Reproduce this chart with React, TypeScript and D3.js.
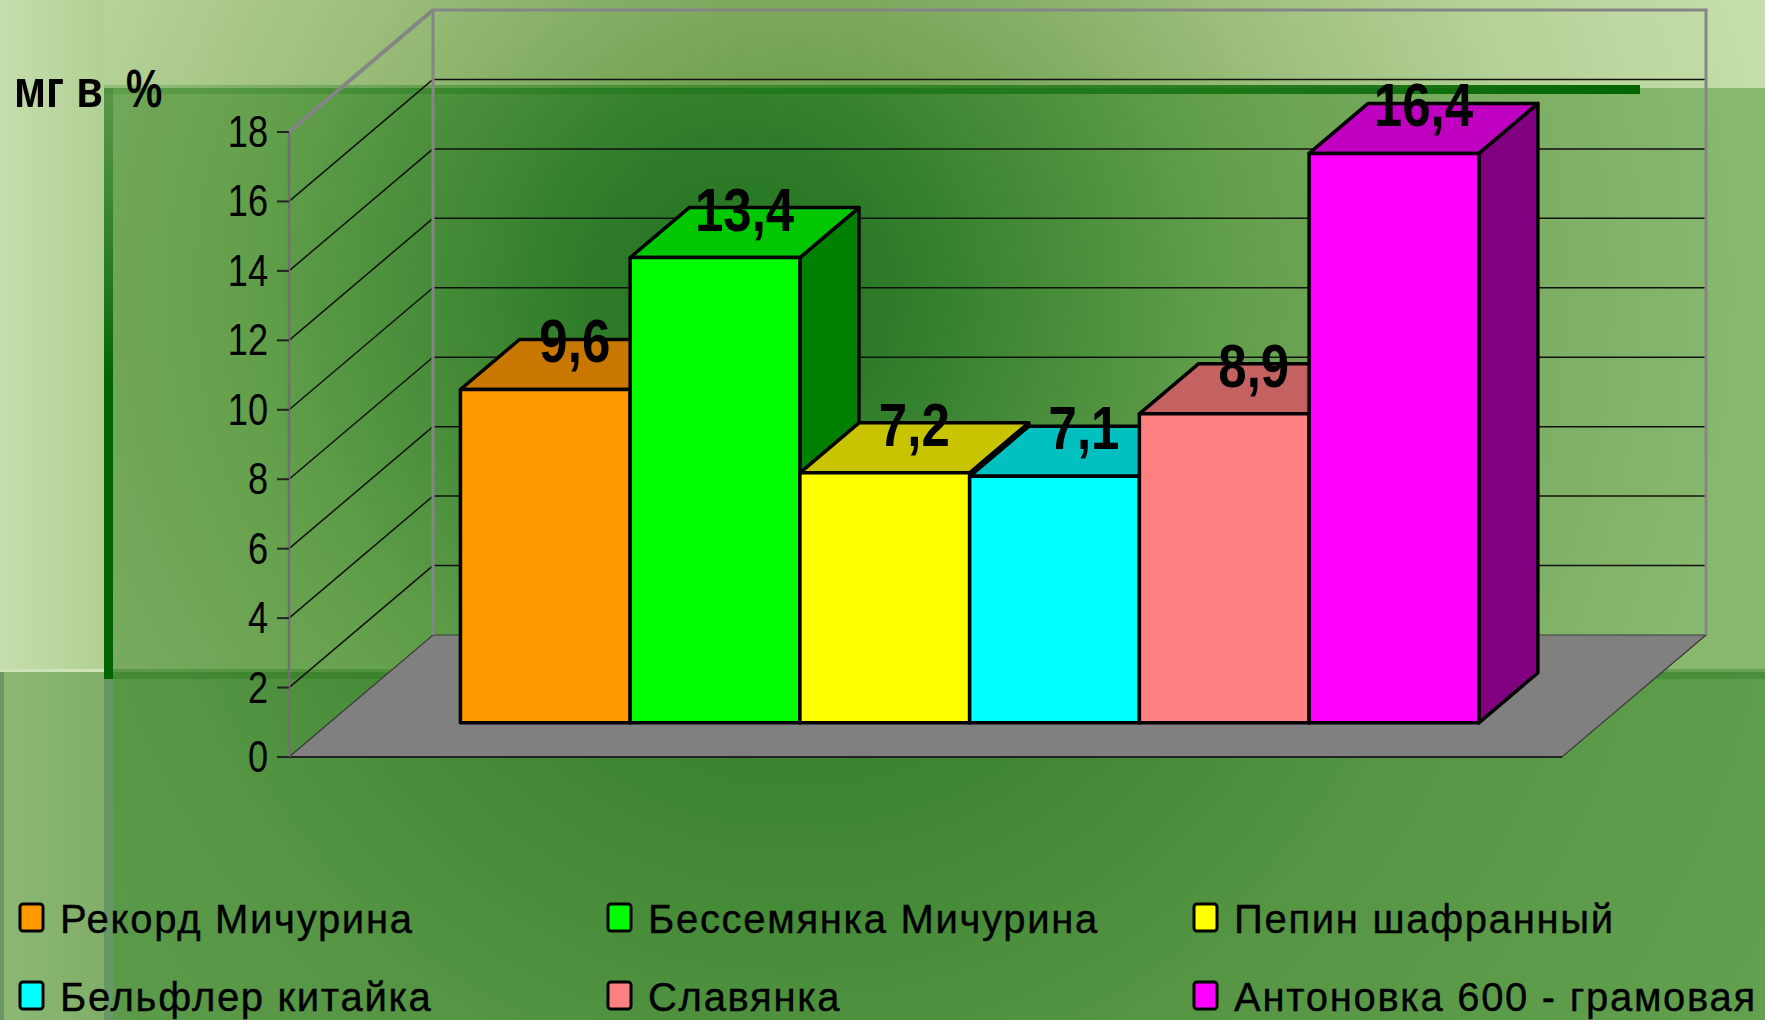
import * as d3 from "d3";

// ---- data ----
const names = [
  "Рекорд Мичурина",
  "Бессемянка Мичурина",
  "Пепин шафранный",
  "Бельфлер китайка",
  "Славянка",
  "Антоновка 600 - грамовая",
];
const values = [9.6, 13.4, 7.2, 7.1, 8.9, 16.4];
const frontColors = ["#ff9900", "#00ff00", "#ffff00", "#00ffff", "#ff8080", "#ff00ff"];
const topColors = ["#c87800", "#00c800", "#c8c400", "#00c0c0", "#c46262", "#c000c0"];
const sideColors = ["#804c00", "#008000", "#808000", "#008080", "#804040", "#800080"];
const yTicks = [0, 2, 4, 6, 8, 10, 12, 14, 16, 18];
const yTitle = ["мг в", "%"];

const W = 1765;
const H = 1020;

// 3d frame
const front = { x0: 289, x1: 1562, y0: 757, y1: 132 };
const depth = { dx: 144, dy: -122 };
const barFront = 0.28; // depth fraction where bars start
const barDepth = 0.41; // depth fraction the bars occupy

const fmt = (v: number) => d3.format(".1f")(v).replace(".", ",");

export default function App() {
  const yScale = d3.scaleLinear().domain([0, 18]).range([front.y0, front.y1]);
  const xScale = d3
    .scaleBand<string>()
    .domain(names)
    .range([front.x0, front.x1])
    .paddingInner(0)
    .paddingOuter(0.75)
    .align(0.515);

  const bw = xScale.bandwidth();
  const sx = barFront * depth.dx;
  const sy = barFront * depth.dy;
  const ddx = barDepth * depth.dx;
  const ddy = barDepth * depth.dy;

  const bx0 = front.x0 + depth.dx;
  const bx1 = front.x1 + depth.dx;

  const bars = names.map((n, i) => {
    const x = xScale(n)! + sx;
    const yTop = yScale(values[i]) + sy;
    const yBot = yScale(0) + sy;
    return { n, i, x, yTop, yBot };
  });

  const legendCols = [20, 608, 1194];
  const legendRows = [933, 1011];

  return (
    <svg
      width={W}
      height={H}
      style={{ position: "absolute", left: 0, top: 0, fontFamily: "'Liberation Sans', Arial, sans-serif" }}
    >
      <defs>
        <radialGradient id="gB" gradientUnits="userSpaceOnUse" cx={740} cy={290} r={1000}>
          <stop offset="0" stopColor="#257522" />
          <stop offset="0.15" stopColor="#2d7b28" />
          <stop offset="0.5" stopColor="#64a04c" />
          <stop offset="0.8" stopColor="#7eae64" />
          <stop offset="1" stopColor="#88b86e" />
        </radialGradient>
        <radialGradient id="gA" gradientUnits="userSpaceOnUse" cx={800} cy={300} r={1000}>
          <stop offset="0" stopColor="#5a9040" />
          <stop offset="0.25" stopColor="#76a456" />
          <stop offset="0.5" stopColor="#9abd7a" />
          <stop offset="0.75" stopColor="#b6d298" />
          <stop offset="1" stopColor="#c6deaa" />
        </radialGradient>
        <radialGradient id="gD" gradientUnits="userSpaceOnUse" cx={800} cy={450} r={1100}>
          <stop offset="0" stopColor="#2a7a24" />
          <stop offset="0.3" stopColor="#3c8430" />
          <stop offset="0.6" stopColor="#559543" />
          <stop offset="1" stopColor="#62a050" />
        </radialGradient>
        <linearGradient id="gC" x1="0" y1="0" x2="1" y2="0">
          <stop offset="0" stopColor="#c6deac" />
          <stop offset="1" stopColor="#b2d094" />
        </linearGradient>
        <linearGradient id="gE" x1="0" y1="0" x2="1" y2="0">
          <stop offset="0" stopColor="#8cb874" />
          <stop offset="1" stopColor="#80ae68" />
        </linearGradient>
        <linearGradient id="gTop" x1="0" y1="0" x2="1" y2="0">
          <stop offset="0" stopColor="#1e7a1a" stopOpacity={0.2} />
          <stop offset="0.5" stopColor="#0a6e0a" stopOpacity={0.55} />
          <stop offset="1" stopColor="#006400" stopOpacity={1} />
        </linearGradient>
        <linearGradient id="gLeft" x1="0" y1="0" x2="0" y2="1">
          <stop offset="0" stopColor="#2a7a2a" stopOpacity={0.35} />
          <stop offset="0.5" stopColor="#006400" stopOpacity={1} />
          <stop offset="1" stopColor="#006400" stopOpacity={1} />
        </linearGradient>
      </defs>

      {/* background slide */}
      <rect x={104} y={0} width={W - 104} height={88} fill="url(#gA)" />
      <rect x={0} y={0} width={104} height={672} fill="url(#gC)" />
      <rect x={104} y={88} width={W - 104} height={584} fill="url(#gB)" />
      <rect x={104} y={672} width={W - 104} height={H - 672} fill="url(#gD)" />
      <rect x={0} y={672} width={104} height={H - 672} fill="url(#gE)" />
      <rect x={0} y={672} width={4} height={H - 672} fill="#6a966a" />
      <rect x={104} y={679} width={9} height={H - 679} fill="#6a966a" opacity={0.8} />
      <rect x={0} y={669} width={104} height={3} fill="#cfe2b8" />
      <rect x={104} y={669} width={W - 104} height={10} fill="#1e6e14" opacity={0.3} />
      <rect x={104} y={85} width={1536} height={9} fill="url(#gTop)" />
      <rect x={104} y={88} width={9} height={591} fill="url(#gLeft)" />

      {/* walls: grid lines */}
      {yTicks
        .filter((t) => t > 0 && t < 18)
        .map((t) => {
          const y = yScale(t);
          return (
            <g key={t} stroke="#111" strokeWidth={1.5}>
              <line x1={front.x0} y1={y} x2={bx0} y2={y + depth.dy} />
              <line x1={bx0} y1={y + depth.dy} x2={bx1} y2={y + depth.dy} />
            </g>
          );
        })}

      {/* floor */}
      <polygon
        points={[
          [front.x0, front.y0],
          [front.x1, front.y0],
          [bx1, front.y0 + depth.dy],
          [bx0, front.y0 + depth.dy],
        ]
          .map((p) => p.join(","))
          .join(" ")}
        fill="#808080"
        stroke="#3a3a3a"
        strokeWidth={1.2}
      />
      <line x1={front.x0} y1={front.y0} x2={front.x1} y2={front.y0} stroke="#222" strokeWidth={2} />

      {/* wall frame */}
      <path
        d={`M${bx0},${front.y0 + depth.dy} V${front.y1 + depth.dy} H${bx1} V${front.y0 + depth.dy}`}
        fill="none"
        stroke="#858585"
        strokeWidth={3}
      />
      <line
        x1={front.x0}
        y1={front.y1}
        x2={bx0}
        y2={front.y1 + depth.dy}
        stroke="#858585"
        strokeWidth={4}
      />
      <line x1={front.x0} y1={front.y1} x2={front.x0} y2={front.y0} stroke="#707070" strokeWidth={2.5} />

      {/* y axis ticks and labels */}
      {yTicks.map((t) => (
        <g key={t}>
          <line x1={front.x0 - 12} y1={yScale(t)} x2={front.x0} y2={yScale(t)} stroke="#222" strokeWidth={2} />
          <text
            transform={`translate(${front.x0 - 21},${yScale(t) + 15}) scale(0.86,1.05)`}
            textAnchor="end"
            fontSize={42}
            fill="#000"
          >
            {t}
          </text>
        </g>
      ))}

      <text transform="translate(14,107) scale(0.85,1.05)" fontSize={51} fontWeight="bold" fill="#000">
        {yTitle[0]}
      </text>
      <text transform="translate(126,107) scale(0.8,1.05)" fontSize={51} fontWeight="bold" fill="#000">
        {yTitle[1]}
      </text>

      {/* bars */}
      {bars.map(({ n, i, x, yTop, yBot }) => (
        <g key={n} stroke="#000" strokeWidth={3.5} strokeLinejoin="round">
          <polygon
            points={`${x + bw},${yTop} ${x + bw + ddx},${yTop + ddy} ${x + bw + ddx},${yBot + ddy} ${x + bw},${yBot}`}
            fill={sideColors[i]}
          />
          <polygon
            points={`${x},${yTop} ${x + bw},${yTop} ${x + bw + ddx},${yTop + ddy} ${x + ddx},${yTop + ddy}`}
            fill={topColors[i]}
          />
          <rect x={x} y={yTop} width={bw} height={yBot - yTop} fill={frontColors[i]} />
        </g>
      ))}

      {/* value labels */}
      {bars.map(({ n, i, x, yTop }) => (
        <text
          key={n}
          transform={`translate(${x + bw / 2 + ddx / 2},${yTop + ddy / 2 - 2}) scale(0.88,1.05)`}
          textAnchor="middle"
          fontSize={58}
          fontWeight="bold"
          fill="#000"
        >
          {fmt(values[i])}
        </text>
      ))}

      {/* legend */}
      {names.map((n, i) => {
        const cx = legendCols[i % 3];
        const cy = legendRows[Math.floor(i / 3)];
        return (
          <g key={n}>
            <rect
              x={cx}
              y={cy - 29}
              width={23}
              height={27}
              rx={3}
              fill={frontColors[i]}
              stroke="#000"
              strokeWidth={3}
            />
            <text
              x={cx + 40}
              y={cy}
              fontSize={40}
              letterSpacing={1.7}
              fill="#000"
              stroke="#000"
              strokeWidth={0.4}
            >
              {n}
            </text>
          </g>
        );
      })}
    </svg>
  );
}
